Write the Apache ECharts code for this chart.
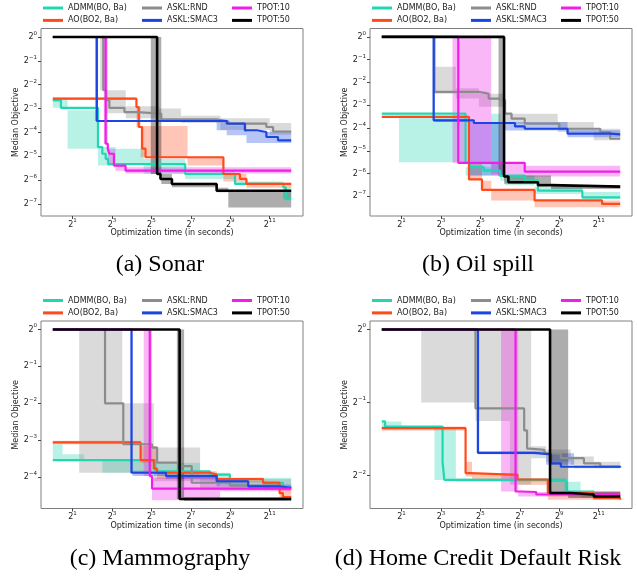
<!DOCTYPE html>
<html>
<head>
<meta charset="utf-8">
<script src="https://cdn.jsdelivr.net/npm/echarts@6/dist/echarts.min.js"></script>
<style>
html, body { margin: 0; padding: 0; background: #fff; }
#chart { width: 637px; height: 576px; }
</style>
</head>
<body>
<div id="chart"></div>
<script>
// medians: [time (s), objective]  bands: [time (s), low, high]
// (a) Sonar
var sonarADMM = [[1,0.159],[1.33,0.128],[4.89,0.0409],[5.7,0.0337],[6.41,0.029],[6.96,0.025],[105,0.0187],[605,0.014],[3300,0.0127],[3600,0.009],[4360,0.009]];
var sonarADMMBand = [[1,0.128,0.167],[1.68,0.039,0.119],[4.89,0.0239,0.0409],[9.06,0.025,0.039],[24.4,0.0187,0.029],[105,0.0162,0.0206],[605,0.0136,0.015],[3300,0.009,0.0127],[4360,0.009,0.0127]];
var sonarAO = [[1,0.167],[18.9,0.131],[20.5,0.0733],[23.1,0.039],[26,0.0304],[402,0.0187],[719,0.0162],[904,0.014],[4360,0.014]];
var sonarAOBand = [[1,0.16,0.172],[18.9,0.0733,0.131],[21.9,0.0304,0.0753],[114,0.0239,0.0304],[402,0.015,0.0187],[904,0.0125,0.0145],[4360,0.0125,0.0145]];
var sonarRND = [[1,1],[5.9,0.213],[6.5,0.16],[7.3,0.128],[12.4,0.113],[19.4,0.108],[45.3,0.0915],[317,0.0866],[478,0.0808],[1820,0.0733],[2304,0.0643],[4360,0.0643]];
var sonarRNDBand = [[5.28,0.213,1],[6.5,0.109,0.213],[13,0.0947,0.134],[41.4,0.0884,0.125],[90.5,0.0825,0.1015],[362,0.067,0.0947],[2048,0.0583,0.0825],[4360,0.0583,0.0825]];
var sonarSMAC = [[1,1],[4.7,0.0872],[452,0.0808],[855,0.0666],[1287,0.0634],[1820,0.0548],[2740,0.0497],[4360,0.0497]];
var sonarSMACBand = [[4.4,0.0872,1],[4.9,0.085,0.09],[317,0.0666,0.0872],[452,0.0575,0.077],[905,0.046,0.0634],[4360,0.046,0.0634]];
var sonarT10 = [[1,1],[6.41,0.0451],[6.9,0.039],[7.3,0.0337],[8.57,0.0239],[12.9,0.0206],[4360,0.0206]];
var sonarT10Band = [[6,0.045,1],[6.9,0.0239,0.039],[9.06,0.0206,0.025],[12.9,0.019,0.0227],[4360,0.019,0.0227]];
var sonarT50 = [[1,1],[39.1,0.0187],[44,0.0162],[65.8,0.014],[317,0.0115],[4360,0.0115]];
var sonarT50Band = [[31.3,0.0187,1],[45.3,0.014,0.0187],[65.8,0.0127,0.0145],[317,0.011,0.0125],[478,0.00708,0.0115],[4360,0.00708,0.0115]];

// (b) Oil spill
var oilADMM = [[1,0.0968],[19,0.0217],[21.9,0.019],[36,0.0171],[64,0.0147],[152,0.0126],[242,0.0093],[1152,0.0076],[4360,0.0076]];
var oilADMMBand = [[1,0.0921,0.0968],[1.83,0.0221,0.0921],[19,0.0147,0.019],[46.8,0.0155,0.0968],[64,0.0126,0.0155],[76.1,0.011,0.0147],[215,0.0084,0.0105],[1152,0.0072,0.0089],[4360,0.0072,0.0089]];
var oilAO = [[1,0.0878],[21.4,0.0131],[33.8,0.0095],[215,0.0069],[2304,0.0062],[4360,0.0062]];
var oilAOBand = [[1,0.085,0.09],[21.4,0.0131,0.0221],[33.8,0.0093,0.0126],[46.8,0.0069,0.0093],[215,0.0056,0.0069],[4360,0.0056,0.0069]];
var oilRND = [[1,1],[6.36,0.188],[30.3,0.178],[42.8,0.153],[60.5,0.146],[76.1,0.0968],[95.7,0.0831],[152,0.0713],[512,0.0612],[2165,0.0552],[3061,0.0451],[4360,0.0451]];
var oilRNDBand = [[6.36,0.178,0.403],[13.5,0.153,0.209],[30.3,0.119,0.178],[76.1,0.0713,0.0968],[484,0.0552,0.0749],[1722,0.043,0.0612],[4360,0.043,0.0612]];
var oilSMAC = [[1,1],[6.19,0.0791],[25.4,0.0728],[108,0.0656],[152,0.0612],[685,0.0526],[3061,0.0515],[4360,0.0515]];
var oilSMACBand = [[6,0.0791,1],[6.36,0.075,0.083],[21.9,0.0147,0.0749],[76.1,0.058,0.0749],[685,0.0474,0.0583],[4360,0.0474,0.0583]];
var oilT10 = [[1,1],[14.7,0.0217],[152,0.0166],[4360,0.0166]];
var oilT10Band = [[12,0.0217,1],[46.8,0.0147,0.0221],[152,0.0143,0.0199],[4360,0.0143,0.0199]];
var oilT50 = [[1,1],[73.5,0.0143],[85.6,0.012],[242,0.011],[383,0.0105],[4360,0.0105]];
var oilT50Band = [[60.5,0.0143,1],[73.5,0.0115,0.0147],[383,0.0098,0.011],[4360,0.0098,0.011]];

// (c) Mammography
var mamADMM = [[1,0.086],[36.8,0.0698],[251,0.0656],[505,0.0604],[1618,0.0563],[3258,0.0511],[4360,0.0511]];
var mamADMMBand = [[1,0.086,0.116],[1.41,0.086,0.096],[3.01,0.085,0.087],[5.7,0.0679,0.086],[39.1,0.0656,0.0821],[177,0.0579,0.0679],[505,0.0533,0.0617],[4360,0.0533,0.0617]];
var mamAO = [[1,0.12],[21.9,0.086],[34.8,0.0733],[39.1,0.0679],[251,0.0656],[317,0.0604],[1618,0.0563],[2896,0.0464],[3258,0.043],[4360,0.043]];
var mamAOBand = [[1,0.116,0.124],[21.9,0.0821,0.112],[39.1,0.0604,0.0698],[317,0.0563,0.0617],[1618,0.0494,0.0579],[2896,0.0415,0.0494],[4360,0.0415,0.0494]];
var mamRND = [[1,1],[6.27,0.25],[11.9,0.116],[32.7,0.109],[39.1,0.0821],[86.2,0.077],[132,0.0563],[505,0.0533],[2896,0.0511],[4360,0.0511]];
var mamRNDBand = [[2.53,0.0679,1],[11.5,0.0679,0.25],[34.8,0.0579,0.109],[177,0.0494,0.0604],[4360,0.0494,0.0604]];
var mamSMAC = [[1,1],[15.9,0.0679],[53.4,0.0638],[317,0.0579],[962,0.0526],[2896,0.0511],[4360,0.0511]];
var mamSMACBand = [[15.5,0.0679,1],[16.5,0.064,0.0705],[53.4,0.06,0.066],[317,0.0526,0.06],[962,0.0494,0.0545],[4360,0.0494,0.0545]];
var mamT10 = [[1,1],[30.2,0.0638],[32.7,0.0504],[4360,0.0504]];
var mamT10Band = [[24.4,0.0638,1],[32.7,0.0406,0.0617],[357,0.048,0.053],[4360,0.048,0.053]];
var mamT50 = [[1,1],[86.2,0.0415],[4360,0.0415]];
var mamT50Band = [[78.3,0.0415,1],[101,0.04,0.043],[4360,0.04,0.043]];

// (d) Home Credit Default Risk
var homeADMM = [[1,0.418],[1.12,0.398],[8.46,0.285],[9,0.24],[644,0.215],[1722,0.205],[4360,0.205]];
var homeADMMBand = [[1,0.389,0.418],[2,0.395,0.4],[6.36,0.24,0.389],[13.5,0.236,0.243],[644,0.212,0.236],[1082,0.202,0.212],[4360,0.202,0.212]];
var homeAO = [[1,0.392],[19,0.256],[22.6,0.252],[118,0.241],[342,0.212],[1722,0.202],[4360,0.199]];
var homeAOBand = [[1,0.384,0.398],[19,0.248,0.285],[23.9,0.241,0.256],[121,0.229,0.243],[342,0.199,0.215],[4360,0.199,0.215]];
var homeRND = [[1,1],[26.9,0.473],[149,0.384],[165,0.323],[181,0.319],[304,0.309],[541,0.295],[1218,0.281],[2165,0.272],[4360,0.272]];
var homeRNDBand = [[4,0.5,1],[26.9,0.42,1],[90.5,0.229,1],[191,0.295,0.33],[322,0.285,0.32],[766,0.277,0.3],[1722,0.27,0.285],[4360,0.27,0.285]];
var homeSMAC = [[1,1],[29.4,0.31],[215,0.306],[383,0.281],[541,0.272],[4360,0.27]];
var homeSMACBand = [[28,0.31,1],[30.5,0.306,0.315],[322,0.277,0.309],[861,0.268,0.275],[4360,0.268,0.275]];
var homeT10 = [[1,1],[110,0.215],[135,0.214],[228,0.209],[4360,0.209]];
var homeT10Band = [[66.3,0.215,1],[121,0.205,0.214],[4360,0.205,0.214]];
var homeT50 = [[1,1],[370,0.212],[766,0.209],[1722,0.205],[4360,0.205]];
var homeT50Band = [[370,0.212,1],[700,0.202,0.215],[4360,0.202,0.215]];

var methods = ['ADMM(BO, Ba)', 'AO(BO2, Ba)', 'ASKL:RND', 'ASKL:SMAC3', 'TPOT:10', 'TPOT:50'];
var methodColors = ['#22d6b2', '#ff4a1c', '#8c8c8c', '#1c46e2', '#f01ee6', '#000000'];
var lineWidths = [2.2, 2.2, 2.2, 2.2, 2.2, 2.6];
var captions = ['(a) Sonar', '(b) Oil spill', '(c) Mammography', '(d) Home Credit Default Risk'];
var xTicks = [2, 8, 32, 128, 512, 2048];
var yTicksLong = [1, 0.5, 0.25, 0.125, 0.0625, 0.03125, 0.015625, 0.0078125];
var yTicksMam = [1, 0.5, 0.25, 0.125, 0.0625];
var yTicksHome = [1, 0.5, 0.25];

var panels = [
    {med: [sonarADMM, sonarAO, sonarRND, sonarSMAC, sonarT10, sonarT50],
     band: [sonarADMMBand, sonarAOBand, sonarRNDBand, sonarSMACBand, sonarT10Band, sonarT50Band],
     yMin: 0.00552, yMax: 1.281, yTicks: yTicksLong},
    {med: [oilADMM, oilAO, oilRND, oilSMAC, oilT10, oilT50],
     band: [oilADMMBand, oilAOBand, oilRNDBand, oilSMACBand, oilT10Band, oilT50Band],
     yMin: 0.0043, yMax: 1.292, yTicks: yTicksLong},
    {med: [mamADMM, mamAO, mamRND, mamSMAC, mamT10, mamT50],
     band: [mamADMMBand, mamAOBand, mamRNDBand, mamSMACBand, mamT10Band, mamT50Band],
     yMin: 0.0347, yMax: 1.173, yTicks: yTicksMam},
    {med: [homeADMM, homeAO, homeRND, homeSMAC, homeT10, homeT50],
     band: [homeADMMBand, homeAOBand, homeRNDBand, homeSMACBand, homeT10Band, homeT50Band],
     yMin: 0.183, yMax: 1.084, yTicks: yTicksHome}
];

var font = 'DejaVu Sans';
var supRich = {
    b: {fontSize: 8, fontFamily: font, color: '#222', lineHeight: 13},
    s: {fontSize: 5.5, fontFamily: font, color: '#222', verticalAlign: 'top', lineHeight: 13}
};
function powLabel(v) {
    var p = Math.round(Math.log(v) / Math.LN2);
    return '{b|2}{s|' + (p < 0 ? '\u2212' + (-p) : p) + '}';
}

// one polygon per band, steps follow the data points
function renderBand(params, api) {
    if (params.dataIndexInside !== 0) return null;
    var n = params.dataInsideLength;
    var up = [], down = [];
    for (var i = 0; i < n - 1; i++) {
        var x0 = api.value(0, i), x1 = api.value(0, i + 1);
        var lo = api.value(1, i), hi = api.value(2, i);
        up.push(api.coord([x0, hi]), api.coord([x1, hi]));
        down.push(api.coord([x0, lo]), api.coord([x1, lo]));
    }
    return {
        type: 'polygon',
        shape: {points: up.concat(down.reverse())},
        style: {fill: api.visual('color'), opacity: 0.32}
    };
}

var myChart = echarts.init(document.getElementById('chart'));
var grids = [], xAxes = [], yAxes = [], series = [], legends = [], graphics = [];
var colOffsets = [2, 101, 191];

panels.forEach(function (p, i) {
    var left = i % 2 ? 370 : 41;
    var top = i < 2 ? 28.5 : 321;
    grids.push({left: left, top: top, width: 262, height: 187.5, show: true,
        borderColor: '#808080', borderWidth: 1, backgroundColor: 'transparent'});
    xAxes.push({
        type: 'log', logBase: 2, gridIndex: i, min: 0.66, max: 6600,
        name: 'Optimization time (in seconds)', nameLocation: 'middle', nameGap: 13,
        nameTextStyle: {fontSize: 8, fontFamily: font, color: '#222'},
        axisLine: {show: false},
        axisTick: {show: true, customValues: xTicks, length: 3, lineStyle: {color: '#444'}},
        axisLabel: {customValues: xTicks, formatter: powLabel, rich: supRich, margin: 2},
        splitLine: {show: false}
    });
    yAxes.push({
        type: 'log', logBase: 2, gridIndex: i, min: p.yMin, max: p.yMax,
        name: 'Median Objective', nameLocation: 'middle', nameGap: 16,
        nameTextStyle: {fontSize: 8, fontFamily: font, color: '#222'},
        axisLine: {show: false},
        axisTick: {show: true, customValues: p.yTicks, length: 3, lineStyle: {color: '#444'}},
        axisLabel: {customValues: p.yTicks, formatter: powLabel, rich: supRich, margin: 4},
        splitLine: {show: false}
    });
    p.band.forEach(function (b, k) {
        series.push({
            type: 'custom', name: 'band ' + methods[k], xAxisIndex: i, yAxisIndex: i,
            renderItem: renderBand, data: b, encode: {x: 0, y: [1, 2]},
            itemStyle: {color: methodColors[k]}, z: 1, silent: true
        });
    });
    p.med.forEach(function (m, k) {
        series.push({
            type: 'line', name: methods[k], xAxisIndex: i, yAxisIndex: i,
            data: m, step: 'end', showSymbol: false, symbol: 'none',
            itemStyle: {color: methodColors[k]},
            lineStyle: {color: methodColors[k], width: lineWidths[k]},
            z: 2 + k
        });
    });
    for (var c = 0; c < 3; c++) {
        legends.push({
            orient: 'vertical', left: left + colOffsets[c], top: top - 25.5,
            padding: 0, itemWidth: 20, itemHeight: 3, itemGap: 2.4, icon: 'rect',
            selectedMode: false,
            data: [methods[c * 2], methods[c * 2 + 1]],
            textStyle: {fontSize: 8, fontFamily: font, color: '#222', lineHeight: 10}
        });
    }
    graphics.push({
        type: 'text', x: i % 2 ? 478 : 160, y: i < 2 ? 265 : 559,
        style: {text: captions[i], fill: '#000', font: '24px "Liberation Serif"',
            textAlign: 'center', textVerticalAlign: 'middle'}
    });
});

var option = {
    animation: false,
    backgroundColor: '#fff',
    grid: grids,
    xAxis: xAxes,
    yAxis: yAxes,
    legend: legends,
    graphic: graphics,
    series: series
};
myChart.setOption(option);
</script>
</body>
</html>
